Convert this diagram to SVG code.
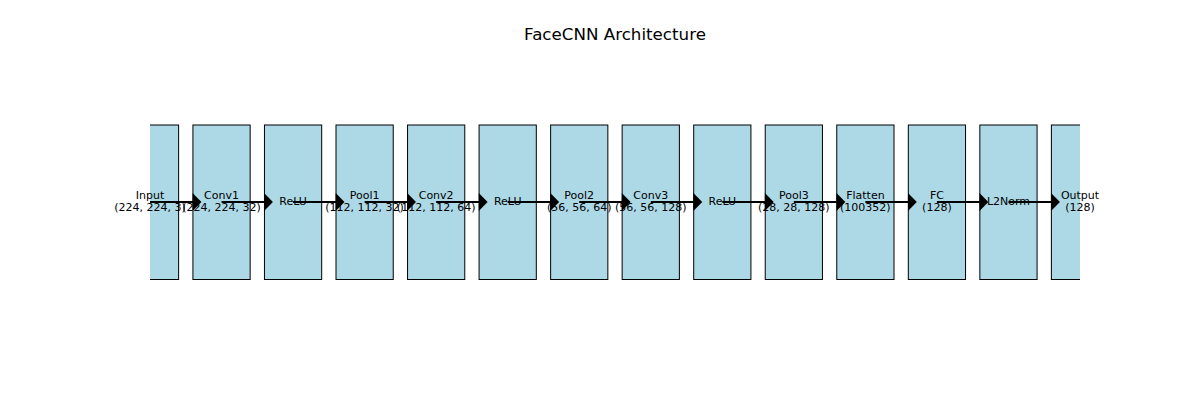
<svg xmlns="http://www.w3.org/2000/svg" width="1200" height="400" viewBox="0 0 1200 400">
<defs>
<clipPath id="ax"><rect x="150" y="0" width="930" height="400"/></clipPath>
<style>
.box{fill:#add8e6;stroke:#000;stroke-width:1}
.lbl{font-family:"DejaVu Sans",sans-serif;font-size:11px;fill:#000;text-anchor:middle}
.ttl{font-family:"DejaVu Sans",sans-serif;font-size:16.7px;fill:#000;text-anchor:middle}
.ln{stroke:#000;stroke-width:2;fill:none}
.hd{fill:#000}
</style>
</defs>
<rect width="1200" height="400" fill="#fff"/>
<text class="ttl" x="615" y="40">FaceCNN Architecture</text>
<g id="n0"><rect class="box" clip-path="url(#ax)" x="121.38" y="125" width="57.23" height="154.5"/><text class="lbl" x="150" y="198.5">Input</text><text class="lbl" x="150" y="211.3">(224, 224, 3)</text></g>
<g id="n1"><rect class="box" x="192.92" y="125" width="57.23" height="154.5"/><text class="lbl" x="221.54" y="198.5">Conv1</text><text class="lbl" x="221.54" y="211.3">(224, 224, 32)</text></g>
<g id="n2"><rect class="box" x="264.46" y="125" width="57.23" height="154.5"/><text class="lbl" x="293.08" y="205">ReLU</text></g>
<g id="n3"><rect class="box" x="336" y="125" width="57.23" height="154.5"/><text class="lbl" x="364.62" y="198.5">Pool1</text><text class="lbl" x="364.62" y="211.3">(112, 112, 32)</text></g>
<g id="n4"><rect class="box" x="407.54" y="125" width="57.23" height="154.5"/><text class="lbl" x="436.15" y="198.5">Conv2</text><text class="lbl" x="436.15" y="211.3">(112, 112, 64)</text></g>
<g id="n5"><rect class="box" x="479.08" y="125" width="57.23" height="154.5"/><text class="lbl" x="507.69" y="205">ReLU</text></g>
<g id="n6"><rect class="box" x="550.62" y="125" width="57.23" height="154.5"/><text class="lbl" x="579.23" y="198.5">Pool2</text><text class="lbl" x="579.23" y="211.3">(56, 56, 64)</text></g>
<g id="n7"><rect class="box" x="622.15" y="125" width="57.23" height="154.5"/><text class="lbl" x="650.77" y="198.5">Conv3</text><text class="lbl" x="650.77" y="211.3">(56, 56, 128)</text></g>
<g id="n8"><rect class="box" x="693.69" y="125" width="57.23" height="154.5"/><text class="lbl" x="722.31" y="205">ReLU</text></g>
<g id="n9"><rect class="box" x="765.23" y="125" width="57.23" height="154.5"/><text class="lbl" x="793.85" y="198.5">Pool3</text><text class="lbl" x="793.85" y="211.3">(28, 28, 128)</text></g>
<g id="n10"><rect class="box" x="836.77" y="125" width="57.23" height="154.5"/><text class="lbl" x="865.38" y="198.5">Flatten</text><text class="lbl" x="865.38" y="211.3">(100352)</text></g>
<g id="n11"><rect class="box" x="908.31" y="125" width="57.23" height="154.5"/><text class="lbl" x="936.92" y="198.5">FC</text><text class="lbl" x="936.92" y="211.3">(128)</text></g>
<g id="n12"><rect class="box" x="979.85" y="125" width="57.23" height="154.5"/><text class="lbl" x="1008.46" y="205">L2Norm</text></g>
<g id="n13"><rect class="box" clip-path="url(#ax)" x="1051.38" y="125" width="57.23" height="154.5"/><text class="lbl" x="1080" y="198.5">Output</text><text class="lbl" x="1080" y="211.3">(128)</text></g>
<g id="connectors">
<path class="ln" d="M150 202H193M221.54 202H264.5M293.08 202H336M364.62 202H407.5M436.15 202H479M507.69 202H550.6M579.23 202H622.2M650.77 202H693.7M722.31 202H765.2M793.85 202H836.8M865.38 202H908.3M936.92 202H979.9M1008.46 202H1051.4"/>
<g class="hd">
<polygon points="192.6,193 201.4,202 192.6,211"/>
<polygon points="264.1,193 272.9,202 264.1,211"/>
<polygon points="335.7,193 344.5,202 335.7,211"/>
<polygon points="407.2,193 416,202 407.2,211"/>
<polygon points="478.8,193 487.6,202 478.8,211"/>
<polygon points="550.3,193 559.1,202 550.3,211"/>
<polygon points="621.8,193 630.6,202 621.8,211"/>
<polygon points="693.4,193 702.2,202 693.4,211"/>
<polygon points="764.9,193 773.7,202 764.9,211"/>
<polygon points="836.5,193 845.3,202 836.5,211"/>
<polygon points="908,193 916.8,202 908,211"/>
<polygon points="979.5,193 988.3,202 979.5,211"/>
<polygon points="1051.1,193 1059.9,202 1051.1,211"/>
</g>
</g>
</svg>
